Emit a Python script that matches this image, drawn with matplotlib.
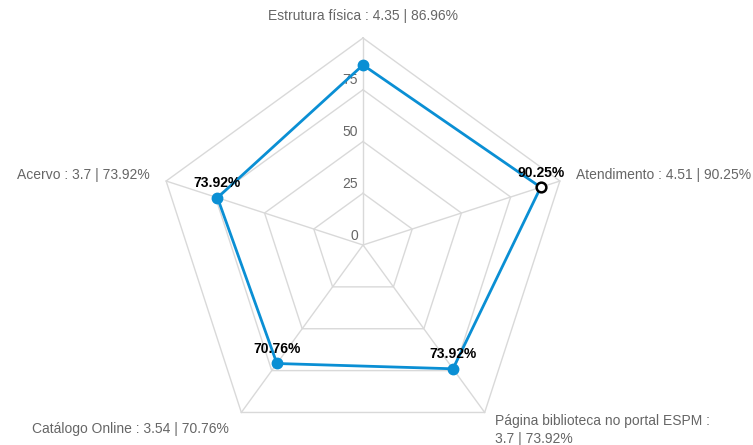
import numpy as np
import matplotlib
matplotlib.use("Agg")
import matplotlib.pyplot as plt

plt.rcParams['font.family'] = ['Liberation Sans', 'DejaVu Sans']

# data
categories = ['Estrutura física', 'Atendimento', 'Página biblioteca no portal ESPM',
              'Catálogo Online', 'Acervo']
scores = [4.35, 4.51, 3.7, 3.54, 3.7]
percents = [86.96, 90.25, 73.92, 70.76, 73.92]
ticks = [0, 25, 50, 75, 100]
show_value = [False, True, True, True, True]

blue = '#0a8fd4'
grid_c = '#d9d9d9'
text_c = '#666666'

n = len(categories)
ang = np.pi / 2 - np.arange(n) * 2 * np.pi / n

def xy(r, a):
    return r * np.cos(a), r * np.sin(a)

fig = plt.figure(figsize=(7.53, 4.45), dpi=100)
ax = fig.add_axes([0, 0, 1, 1])
scale = 100 / 207.0
ax.set_xlim(-363 * scale, (753 - 363) * scale)
ax.set_ylim(-(445 - 245) * scale, 245 * scale)
ax.axis('off')

# pentagon grid
for t in ticks[1:]:
    gx, gy = xy(t, np.append(ang, ang[0]))
    ax.plot(gx, gy, color=grid_c, lw=1, zorder=1)
for a in ang:
    sx, sy = xy(np.array([0, 100]), a)
    ax.plot(sx, sy, color=grid_c, lw=1, zorder=1)

for t in ticks[:-1]:
    ax.text(-2.5, t + 4.5, str(t), ha='right', va='center', fontsize=10, color=text_c, zorder=2)

# series
px, py = xy(np.array(percents), ang)
ax.plot(np.append(px, px[0]), np.append(py, py[0]), color=blue, lw=2, zorder=3)
for i in range(n):
    if i == 1:
        ax.plot(px[i], py[i], 'o', ms=7, mfc='white', mec='black', mew=1.8, zorder=4)
    else:
        ax.plot(px[i], py[i], 'o', ms=7.5, color=blue, zorder=4)
    if show_value[i]:
        ax.text(px[i], py[i] + 7, '%.2f%%' % percents[i], ha='center', va='center',
                fontsize=10, fontweight='bold', color='black', zorder=5)

# category labels
lbl = ['%s : %s | %.2f%%' % (c, s, p) for c, s, p in zip(categories, scores, percents)]
lbl[2] = '%s :\n%s | %.2f%%' % (categories[2], scores[2], percents[2])
lx, ly = xy(np.full(n, 100.0), ang)
fs = 10
ax.text(lx[0], ly[0] + 10.5, lbl[0], ha='center', va='center', fontsize=fs, color=text_c)
ax.text(lx[1] + 8, ly[1] + 3, lbl[1], ha='left', va='center', fontsize=fs, color=text_c)
ax.text(lx[2] + 5, ly[2] - 8.5, lbl[2], ha='left', va='center', fontsize=fs, color=text_c,
        linespacing=1.4)
ax.text(lx[3] - 6, ly[3] - 8, lbl[3], ha='right', va='center', fontsize=fs, color=text_c)
ax.text(lx[4] - 8, ly[4] + 3, lbl[4], ha='right', va='center', fontsize=fs, color=text_c)

fig.savefig('out.png', dpi=100, facecolor='white')
